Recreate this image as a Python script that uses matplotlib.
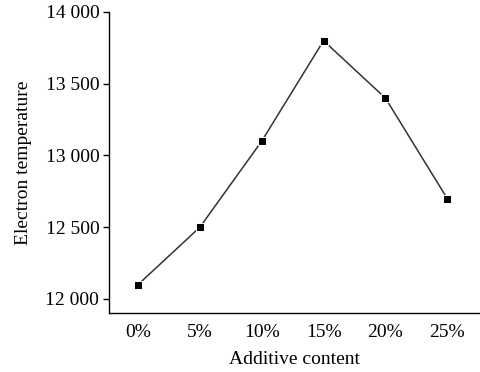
import matplotlib
matplotlib.use("Agg")
import matplotlib.pyplot as plt
from matplotlib.ticker import FuncFormatter

categories = ["0%", "5%", "10%", "15%", "20%", "25%"]
values = [12100, 12500, 13100, 13800, 13400, 12700]
yticks = [12000, 12500, 13000, 13500, 14000]

plt.rcParams['font.family'] = ['Liberation Serif', 'DejaVu Serif']
fig = plt.figure(figsize=(4.81, 3.72), dpi=100)
ax = fig.add_axes([109/481, (372-313)/372, (480-109)/481, (313-12)/372])

x = list(range(len(categories)))
ax.plot(x, values, color='#333333', lw=1.1, marker='s', markersize=6,
        markerfacecolor='black', markeredgecolor='white', markeredgewidth=0.7)

ax.set_xlim(-0.47, 5.53)
ax.set_ylim(11902, 14000)
ax.set_xticks(x)
ax.set_xticklabels(categories)
ax.set_yticks(yticks)
ax.yaxis.set_major_formatter(FuncFormatter(lambda v, p: f"{int(v):,}".replace(",", " ")))
ax.tick_params(axis='x', length=0, labelsize=14, pad=8)
ax.tick_params(axis='y', length=4, width=1, labelsize=14, pad=3)
for s in ['top', 'right']:
    ax.spines[s].set_visible(False)
for s in ['left', 'bottom']:
    ax.spines[s].set_linewidth(1.0)
ax.set_xlabel("Additive content", fontsize=14, labelpad=7)
ax.set_ylabel("Electron temperature", fontsize=14, labelpad=10)

fig.savefig("out.png", dpi=100)
